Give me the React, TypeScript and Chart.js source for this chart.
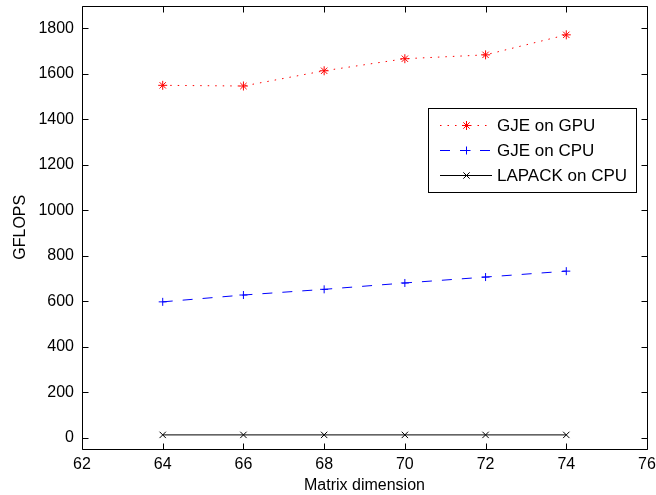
import React, { useEffect, useRef } from "react";
import { Chart, registerables } from "chart.js";

Chart.register(...registerables);

const matrixDims = [64, 66, 68, 70, 72, 74];
const gjeGpu = [1549, 1546, 1613, 1666, 1683, 1771];
const gjeCpu = [597, 627, 652, 680, 706, 732];
const lapackCpu = [12, 12, 12, 12, 12, 12];
const xTicks = [62, 64, 66, 68, 70, 72, 74, 76];
const yTicks = [0, 200, 400, 600, 800, 1000, 1200, 1400, 1600, 1800];
const seriesLabels = ["GJE on GPU", "GJE on CPU", "LAPACK on CPU"];

const FONT = "'Liberation Sans', Arial, Helvetica, sans-serif";

const boxPlugin = {
  id: "matlabBox",
  afterDraw(chart: any) {
    const { ctx, chartArea } = chart;
    const { left, right, top, bottom } = chartArea;
    const xs = chart.scales.x;
    const ys = chart.scales.y;
    const tl = 6;
    ctx.save();
    ctx.strokeStyle = "#000";
    ctx.lineWidth = 1;
    ctx.beginPath();
    const L = Math.round(left) + 0.5;
    const R = Math.round(right) + 0.5;
    const T = Math.round(top) + 0.5;
    const B = Math.round(bottom) + 0.5;
    ctx.rect(L, T, R - L, B - T);
    xTicks.forEach((v) => {
      const px = Math.round(xs.getPixelForValue(v)) + 0.5;
      ctx.moveTo(px, B);
      ctx.lineTo(px, B - tl);
      ctx.moveTo(px, T);
      ctx.lineTo(px, T + tl);
    });
    yTicks.forEach((v) => {
      const py = Math.round(ys.getPixelForValue(v)) + 0.5;
      ctx.moveTo(L, py);
      ctx.lineTo(L + tl, py);
      ctx.moveTo(R, py);
      ctx.lineTo(R - tl, py);
    });
    ctx.stroke();

    // legend
    const bx = 428.5, by = 108.5, bw = 208, bh = 84;
    ctx.fillStyle = "#fff";
    ctx.fillRect(bx, by, bw, bh);
    ctx.strokeRect(bx, by, bw, bh);
    const rows = [125, 150, 175];
    chart.data.datasets.forEach((ds: any, i: number) => {
      const y = rows[i] + 0.5;
      ctx.save();
      ctx.strokeStyle = ds.borderColor;
      ctx.lineWidth = ds.borderWidth;
      ctx.setLineDash(ds.borderDash || []);
      ctx.beginPath();
      ctx.moveTo(440, y);
      ctx.lineTo(492, y);
      ctx.stroke();
      ctx.setLineDash([]);
      const cx = 466.5;
      const r = ds.pointRadius;
      ctx.beginPath();
      const style = ds.pointStyle;
      if (style === "cross" || style === "star") {
        ctx.moveTo(cx - r, y);
        ctx.lineTo(cx + r, y);
        ctx.moveTo(cx, y - r);
        ctx.lineTo(cx, y + r);
      }
      if (style === "crossRot" || style === "star") {
        const o = Math.cos(Math.PI / 4) * r;
        ctx.moveTo(cx - o, y - o);
        ctx.lineTo(cx + o, y + o);
        ctx.moveTo(cx - o, y + o);
        ctx.lineTo(cx + o, y - o);
      }
      ctx.strokeStyle = ds.pointBorderColor;
      ctx.lineWidth = ds.pointBorderWidth;
      ctx.stroke();
      ctx.restore();
      ctx.fillStyle = "#000";
      ctx.font = `17px ${FONT}`;
      ctx.textAlign = "left";
      ctx.textBaseline = "middle";
      ctx.fillText(ds.label, 497, rows[i] + 1);
    });
    ctx.restore();
  },
};

export default function App() {
  const ref = useRef<HTMLCanvasElement | null>(null);
  useEffect(() => {
    if (!ref.current) return;
    const pts = (ys: number[]) => matrixDims.map((x, i) => ({ x, y: ys[i] }));
    const chart = new Chart(ref.current, {
      type: "line",
      data: {
        datasets: [
          {
            label: seriesLabels[0],
            data: pts(gjeGpu),
            borderColor: "#ff0000",
            borderWidth: 1,
            borderDash: [1.5, 6],
            pointStyle: "star",
            pointRadius: 4.5,
            pointBorderColor: "#ff0000",
            pointBorderWidth: 1,
            pointBackgroundColor: "#ff0000",
            fill: false,
          },
          {
            label: seriesLabels[1],
            data: pts(gjeCpu),
            borderColor: "#0000ff",
            borderWidth: 1,
            borderDash: [10, 10],
            pointStyle: "cross",
            pointRadius: 4,
            pointBorderColor: "#0000ff",
            pointBorderWidth: 1,
            fill: false,
          },
          {
            label: seriesLabels[2],
            data: pts(lapackCpu),
            borderColor: "#000000",
            borderWidth: 1,
            pointStyle: "crossRot",
            pointRadius: 4.5,
            pointBorderColor: "#000000",
            pointBorderWidth: 1,
            fill: false,
          },
        ],
      },
      options: {
        responsive: false,
        animation: false,
        layout: { padding: { top: 4, right: 9, left: 0, bottom: 0 } },
        plugins: { legend: { display: false }, tooltip: { enabled: false } },
        scales: {
          x: {
            type: "linear",
            min: 62,
            max: 76,
            afterBuildTicks: (s: any) => {
              s.ticks = xTicks.map((v) => ({ value: v }));
            },
            afterFit: (s: any) => {
              s.height = 46;
              s.paddingLeft = 0;
              s.paddingRight = 0;
            },
            grid: { display: false, drawTicks: false },
            border: { display: false },
            ticks: {
              color: "#000",
              font: { family: FONT, size: 16 },
              padding: 6,
              maxRotation: 0,
              callback: (v: any) => String(v),
            },
            title: {
              display: true,
              text: "Matrix dimension",
              color: "#000",
              font: { family: FONT, size: 16 },
              padding: { top: 0, bottom: 0 },
            },
          },
          y: {
            type: "linear",
            min: -50,
            max: 1900,
            afterBuildTicks: (s: any) => {
              s.ticks = yTicks.map((v) => ({ value: v }));
            },
            afterFit: (s: any) => {
              s.width = 82;
              s.paddingTop = 0;
              s.paddingBottom = 0;
            },
            grid: { display: false, drawTicks: false },
            border: { display: false },
            ticks: {
              color: "#000",
              font: { family: FONT, size: 16 },
              padding: 8,
              callback: (v: any) => String(v),
            },
            title: {
              display: true,
              text: "GFLOPS",
              color: "#000",
              font: { family: FONT, size: 16 },
              padding: { top: 11, bottom: 0 },
            },
          },
        },
      },
      plugins: [boxPlugin],
    });
    return () => chart.destroy();
  }, []);
  return (
    <div style={{ position: "absolute", left: 0, top: 0, width: 656, height: 495, background: "#fff" }}>
      <canvas ref={ref} width={656} height={495} />
    </div>
  );
}
